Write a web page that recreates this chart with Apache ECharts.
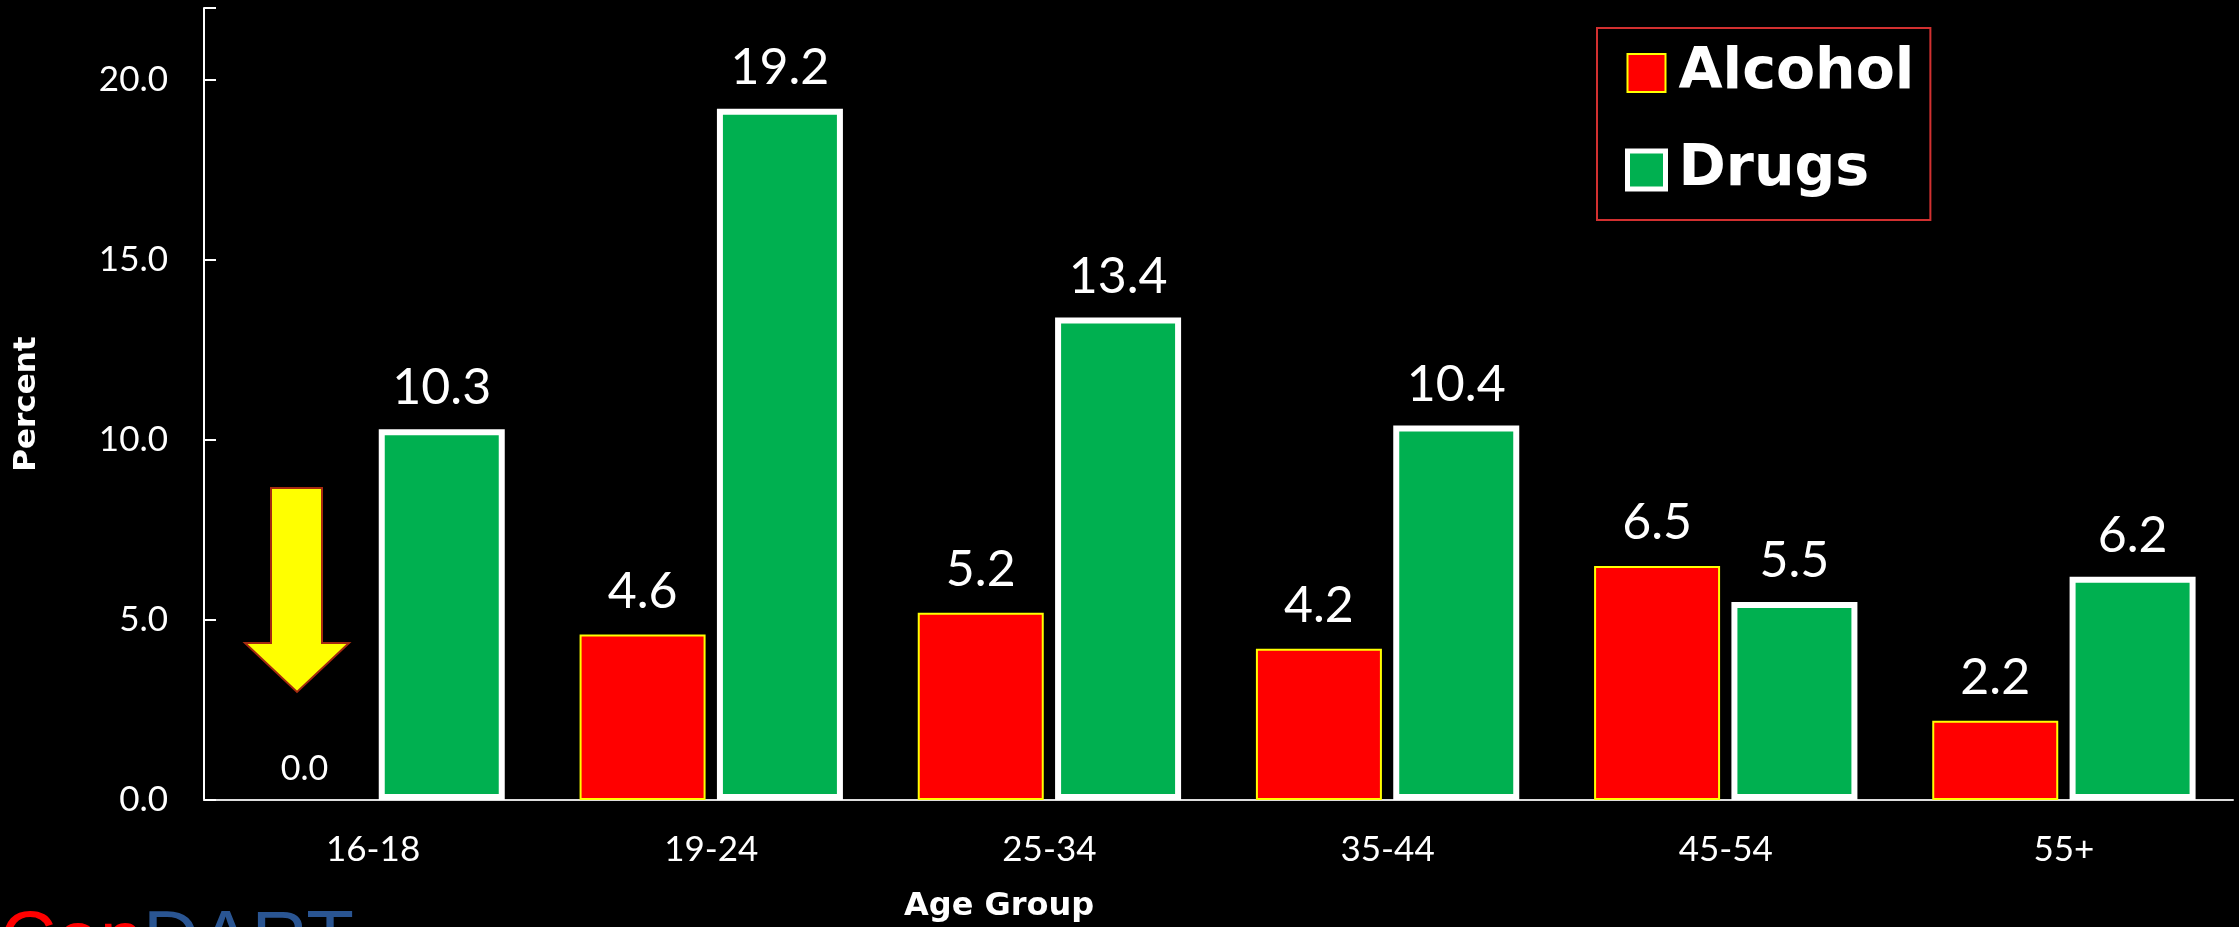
<!DOCTYPE html>
<html lang="en">
<head>
    <meta charset="UTF-8">
    <title>Percent by Age Group</title>
    <script type="text/javascript" src="https://cdn.jsdelivr.net/npm/echarts@6/dist/echarts.min.js"></script>
    <style>
        html, body {
            margin: 0;
            padding: 0;
            background: #000;
        }
        #main {
            width: 2239px;
            height: 927px;
        }
    </style>
</head>
<body>
<div id="main"></div>
<script>
    // data
    var ageGroups = ['16-18', '19-24', '25-34', '35-44', '45-54', '55+'];
    var alcohol = [0.0, 4.6, 5.2, 4.2, 6.5, 2.2];
    var drugs = [10.3, 19.2, 13.4, 10.4, 5.5, 6.2];
    var yTicks = [0, 5, 10, 15, 20];

    var myChart = echarts.init(document.getElementById('main'));

    // first alcohol value is zero: no border, smaller label
    var alcoholData = alcohol.map(function (v, i) {
        if (v === 0) {
            return {value: v, itemStyle: {borderWidth: 0}, label: {fontSize: 34, distance: 14}};
        }
        return v;
    });

    var option = {
        backgroundColor: '#000',
        animation: false,
        title: [
            {
                text: 'Age Group',
                left: 899,
                top: 886,
                textStyle: {color: '#fff', fontFamily: 'DejaVu Sans', fontWeight: 'bold', fontSize: 32}
            },
            {
                text: '{a|Cen}{b|DART}',
                left: 0,
                top: 904,
                padding: 0,
                textStyle: {
                    rich: {
                        a: {color: '#ff0000', fontFamily: 'Liberation Sans', fontWeight: 'normal', fontSize: 78, lineHeight: 78},
                        b: {color: '#2a5592', fontFamily: 'Liberation Sans', fontWeight: 'normal', fontSize: 78, lineHeight: 78}
                    }
                }
            }
        ],
        legend: {
            orient: 'vertical',
            left: 1597,
            top: 28,
            padding: [15, 16, 20, 28],
            itemGap: 37,
            itemWidth: 38,
            itemHeight: 38,
            icon: 'rect',
            borderColor: '#d23030',
            borderWidth: 2,
            textStyle: {
                color: '#fff',
                fontFamily: 'DejaVu Sans',
                fontWeight: 'bold',
                fontSize: 57,
                lineHeight: 60,
                padding: [0, 0, 0, 8]
            },
            data: ['Alcohol', {name: 'Drugs', itemStyle: {borderColor: '#fff', borderWidth: 5}}]
        },
        grid: {
            left: 204,
            right: 6,
            top: 8,
            bottom: 127,
            containLabel: false
        },
        xAxis: {
            type: 'category',
            data: ageGroups,
            axisLine: {lineStyle: {color: '#ddd', width: 2}},
            axisTick: {show: false},
            axisLabel: {color: '#fff', fontFamily: 'Lato', fontSize: 35, margin: 32}
        },
        yAxis: {
            type: 'value',
            min: 0,
            max: 22,
            interval: 5,
            name: 'Percent',
            nameLocation: 'middle',
            nameGap: 162,
            nameTextStyle: {color: '#fff', fontFamily: 'DejaVu Sans', fontWeight: 'bold', fontSize: 31},
            splitLine: {show: false},
            axisLine: {show: true, lineStyle: {color: '#fff', width: 2}},
            axisTick: {show: true, inside: true, length: 12, lineStyle: {color: '#fff', width: 2}},
            axisLabel: {
                color: '#fff',
                fontFamily: 'Lato',
                fontSize: 35,
                margin: 36,
                formatter: function (v) {
                    return yTicks.indexOf(v) >= 0 ? v.toFixed(1) : '';
                }
            }
        },
        series: [
            {
                name: 'Alcohol',
                type: 'bar',
                data: alcoholData,
                barWidth: 126,
                barGap: '9%',
                itemStyle: {color: '#ff0000', borderColor: '#ffff00', borderWidth: 2},
                label: {
                    show: true,
                    position: 'top',
                    distance: 18,
                    color: '#fff',
                    fontFamily: 'Lato',
                    fontSize: 50,
                    formatter: function (p) { return p.value.toFixed(1); }
                }
            },
            {
                name: 'Drugs',
                type: 'bar',
                data: drugs,
                barWidth: 126,
                itemStyle: {color: '#00b050', borderColor: '#fff', borderWidth: 6},
                label: {
                    show: true,
                    position: 'top',
                    distance: 16,
                    color: '#fff',
                    fontFamily: 'Lato',
                    fontSize: 50,
                    formatter: function (p) { return p.value.toFixed(1); }
                }
            }
        ],
        graphic: [
            {
                // yellow arrow pointing down at the empty 16-18 bar
                type: 'polygon',
                shape: {
                    points: [[271, 488], [322, 488], [322, 643], [349, 643], [297, 692], [245, 643], [271, 643]]
                },
                style: {fill: '#ffff00', stroke: '#a52a10', lineWidth: 2}
            }
        ]
    };
    myChart.setOption(option);
</script>
</body>
</html>
